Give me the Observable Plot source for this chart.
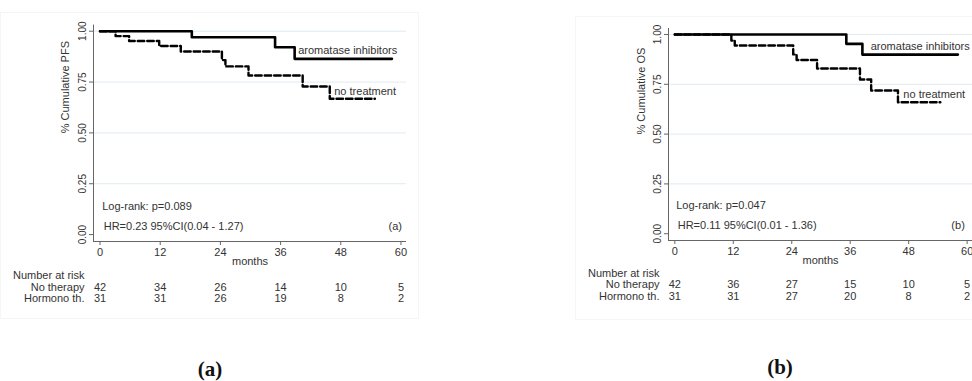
<!DOCTYPE html>
<html>
<head>
<meta charset="utf-8">
<script src="https://cdn.jsdelivr.net/npm/d3@7"></script>
<script src="https://cdn.jsdelivr.net/npm/@observablehq/plot@0.6"></script>
<style>
  html, body { margin: 0; padding: 0; background: #fff; }
  #wrap { position: relative; width: 972px; height: 381px; overflow: hidden; font-family: "Liberation Sans", Arial, sans-serif; }
  .box { position: absolute; border: 1px solid #f4f5f6; box-sizing: border-box; }
  .panel { position: absolute; top: 0; }
  .cap { position: absolute; font-family: "Liberation Serif", "DejaVu Serif", serif; font-weight: bold; font-size: 21px; color: #111; transform: translate(-50%, -50%); }
</style>
</head>
<body>
<div id="wrap">
  <div class="box" style="left:0px;top:12px;width:419px;height:307px;"></div>
  <div class="box" style="left:575px;top:16px;width:410px;height:304px;"></div>
  <div id="pa" class="panel" style="left:0px;"></div>
  <div id="pb" class="panel" style="left:480px;"></div>
  <div class="cap" style="left:210px;top:369px;">(a)</div>
  <div class="cap" style="left:780px;top:367px;">(b)</div>
</div>
<script>
// ---- data ----
const monthTicks = [0, 12, 24, 36, 48, 60];
const survTicks = [0, 0.25, 0.5, 0.75, 1];
const gridTicks = [0.25, 0.5, 0.75, 1];
const xDomain = [-1.3, 61.1];
const yDomain = [-0.034, 1.03];

// (a) Progression-free survival
const pfsAromataseT = [0, 18.3, 34.9, 38.8, 58.2];
const pfsAromataseS = [1, 0.970, 0.921, 0.864, 0.864];
const pfsNoTreatT = [0, 3.1, 5.8, 11.8, 16.1, 24.3, 25.0, 29.6, 40.4, 45.8, 54.8];
const pfsNoTreatS = [1, 0.976, 0.952, 0.927, 0.900, 0.858, 0.827, 0.782, 0.728, 0.668, 0.668];
const pfsRiskNoTherapy = [42, 34, 26, 14, 10, 5];
const pfsRiskHormono = [31, 31, 26, 19, 8, 2];

// (b) Overall survival
const osAromataseT = [0, 35.2, 38.5, 58.1];
const osAromataseS = [1, 0.953, 0.899, 0.899];
const osNoTreatT = [0, 11.6, 12.3, 24.3, 25.0, 29.2, 38.0, 40.3, 45.8, 54.5];
const osNoTreatS = [1, 0.970, 0.945, 0.900, 0.872, 0.829, 0.774, 0.719, 0.660, 0.660];
const osRiskNoTherapy = [42, 36, 27, 15, 10, 5];
const osRiskHormono = [31, 31, 27, 20, 8, 2];

const seriesLabels = ["aromatase inhibitors", "no treatment"];
const rowLabels = ["Number at risk", "No therapy", "Hormono th."];

function panel(cfg) {
  const ai = cfg.aiT.map((t, i) => ({t, s: cfg.aiS[i]}));
  const nt = cfg.ntT.map((t, i) => ({t, s: cfg.ntS[i]}));
  const aiLab = ai[ai.length - 2];
  const ntLab = nt[nt.length - 2];
  const r1 = monthTicks.map((m, i) => ({m, n: cfg.risk1[i]}));
  const r2 = monthTicks.map((m, i) => ({m, n: cfg.risk2[i]}));
  const ink = "#333";
  const fmt = d3.format(".2f");
  return Plot.plot({
    width: cfg.width,
    height: 330,
    marginLeft: cfg.ml,
    marginRight: cfg.mr,
    marginTop: cfg.mt,
    marginBottom: 330 - cfg.axisY,
    x: {domain: xDomain},
    y: {domain: yDomain},
    style: {fontFamily: "'Liberation Sans', Arial, sans-serif", fontSize: "11px", color: ink, background: "transparent", overflow: "visible"},
    marks: [
      Plot.ruleY(gridTicks, {stroke: "#e0eaf0", strokeWidth: 1}),
      Plot.ruleX([xDomain[0]], {stroke: "#666", strokeWidth: 1}),
      Plot.ruleY([yDomain[0]], {stroke: "#666", strokeWidth: 1}),
      Plot.axisX({ticks: monthTicks, tickSize: 4, tickPadding: 3, tickFormat: d => String(d), label: null, stroke: "#666", fill: ink}),
      Plot.axisY({ticks: survTicks, tickSize: 4, tickFormat: () => "", label: null, stroke: "#666"}),
      Plot.text(survTicks, {y: d => d, text: d => fmt(d), frameAnchor: "left", dx: -8, rotate: -90, textAnchor: "middle", lineAnchor: "bottom", fontSize: 10, fill: ink}),
      Plot.text([cfg.ylabel], {text: d => d, frameAnchor: "left", dx: cfg.ylabDx, rotate: -90, fill: ink}),
      Plot.text(["months"], {text: d => d, frameAnchor: "bottom", dy: 23, fill: ink}),
      Plot.line(ai, {x: "t", y: "s", curve: "step-after", stroke: "#000", strokeWidth: 2.6}),
      Plot.line(nt, {x: "t", y: "s", curve: "step-after", stroke: "#000", strokeWidth: 2.4, strokeDasharray: "6.5,3"}),
      Plot.text([aiLab], {x: "t", y: "s", text: () => seriesLabels[0], textAnchor: "start", dx: cfg.aiDx, dy: -8.5, fill: ink}),
      Plot.text([ntLab], {x: "t", y: "s", text: () => seriesLabels[1], textAnchor: "start", dx: cfg.ntDx, dy: -7.5, fill: ink}),
      Plot.text([cfg.logrank], {text: d => d, frameAnchor: "bottom-left", textAnchor: "start", dx: cfg.lrDx, dy: -31.5, fill: ink}),
      Plot.text([cfg.hr], {text: d => d, frameAnchor: "bottom-left", textAnchor: "start", dx: cfg.lrDx + 1.5, dy: -11.5, fill: ink}),
      Plot.text([cfg.tag], {text: d => d, frameAnchor: "bottom-right", textAnchor: "end", dx: cfg.tagDx, dy: -11.5, fill: ink}),
      Plot.text([rowLabels[0]], {text: d => d, frameAnchor: "bottom-left", textAnchor: "end", dx: -9, dy: cfg.rowDy[0], fill: ink}),
      Plot.text([rowLabels[1]], {text: d => d, frameAnchor: "bottom-left", textAnchor: "end", dx: -9, dy: cfg.rowDy[1], fill: ink}),
      Plot.text([rowLabels[2]], {text: d => d, frameAnchor: "bottom-left", textAnchor: "end", dx: -9, dy: cfg.rowDy[2], fill: ink}),
      Plot.text(r1, {x: "m", text: d => String(d.n), frameAnchor: "bottom", dy: cfg.rowDy[1], fill: ink}),
      Plot.text(r2, {x: "m", text: d => String(d.n), frameAnchor: "bottom", dy: cfg.rowDy[2], fill: ink})
    ]
  });
}

document.getElementById("pa").appendChild(panel({
  width: 420, ml: 93, mr: 14, mt: 24.6, axisY: 241,
  aiT: pfsAromataseT, aiS: pfsAromataseS, ntT: pfsNoTreatT, ntS: pfsNoTreatS,
  risk1: pfsRiskNoTherapy, risk2: pfsRiskHormono,
  ylabel: "% Cumulative PFS", ylabDx: -28,
  logrank: "Log-rank: p=0.089", hr: "HR=0.23 95%CI(0.04 - 1.27)", tag: "(a)",
  lrDx: 8.7, tagDx: -4.5, aiDx: 3.5, ntDx: 4.5,
  rowDy: [37, 49, 60]
}));

document.getElementById("pb").appendChild(panel({
  width: 492, ml: 188, mr: 0, mt: 28, axisY: 240,
  aiT: osAromataseT, aiS: osAromataseS, ntT: osNoTreatT, ntS: osNoTreatS,
  risk1: osRiskNoTherapy, risk2: osRiskHormono,
  ylabel: "% Cumulative OS", ylabDx: -27,
  logrank: "Log-rank: p=0.047", hr: "HR=0.11 95%CI(0.01 - 1.36)", tag: "(b)",
  lrDx: 7.7, tagDx: -7.7, aiDx: 8.3, ntDx: 5.4,
  rowDy: [36, 47.5, 59]
}));
</script>
</body>
</html>
